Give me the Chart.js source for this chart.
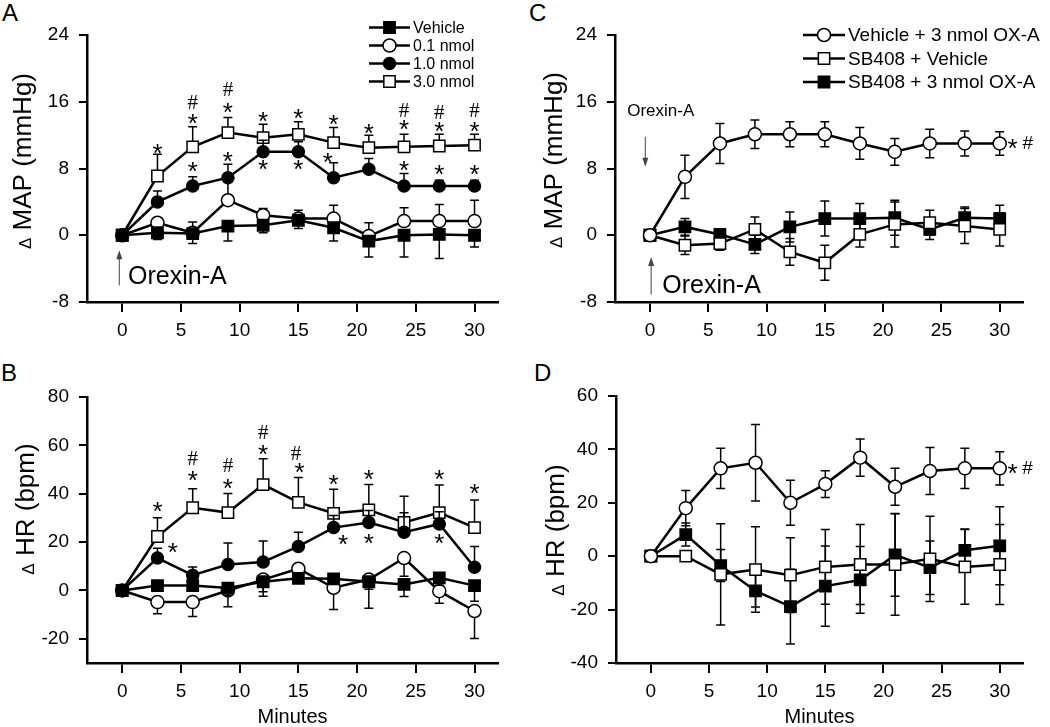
<!DOCTYPE html>
<html>
<head>
<meta charset="utf-8">
<script src="https://cdn.jsdelivr.net/npm/chart.js@4.4.1/dist/chart.umd.min.js"></script>
<style>
body { margin: 0; background: #fff; width: 1050px; height: 727px; position: relative; overflow: hidden; font-family: 'Liberation Sans', Arial, sans-serif; }
canvas { position: absolute; }
.tag { position: absolute; font-size: 24px; line-height: 24px; color: #000; }
</style>
</head>
<body>
<div class="tag" style="left:2px;top:1px">A</div>
<div class="tag" style="left:1px;top:361px">B</div>
<div class="tag" style="left:529px;top:1px">C</div>
<div class="tag" style="left:534px;top:361px">D</div>
<canvas id="mapDose" width="510" height="345" style="left:0;top:0"></canvas>
<canvas id="hrDose" width="510" height="382" style="left:0;top:345px"></canvas>
<canvas id="mapBlock" width="530" height="345" style="left:520px;top:0"></canvas>
<canvas id="hrBlock" width="530" height="382" style="left:520px;top:345px"></canvas>
<script>
const minutes = [0, 3, 6, 9, 12, 15, 18, 21, 24, 27, 30];
const minuteTicks = [0, 5, 10, 15, 20, 25, 30];

// A - change in MAP, dose response
const doseLabels = ['Vehicle', '0.1 nmol', '1.0 nmol', '3.0 nmol'];
const mapVehicle = [0, 0.3, 0.2, 1.1, 1.2, 1.8, 0.9, -0.7, 0, 0.1, 0];
const mapVehicleSem = [0, 0.8, 1.2, 1.8, 0.9, 1.0, 1.6, 1.9, 2.6, 2.9, 1.4];
const map01 = [0, 1.5, 0.3, 4.2, 2.4, 2.0, 2.0, -0.1, 1.7, 1.7, 1.7];
const map01Sem = [0, 0.3, 1.3, 2.2, 0.8, 1.0, 1.6, 1.6, 1.6, 2.0, 2.5];
const map10 = [0, 4.0, 5.9, 6.9, 10.0, 10.0, 6.9, 7.9, 5.9, 5.9, 5.9];
const map10Sem = [0, 1.3, 1.1, 1.6, 1.4, 1.2, 1.8, 1.3, 1.5, 0.7, 0.7];
const map30 = [0, 7.1, 10.6, 12.3, 11.7, 12.1, 11.1, 10.5, 10.6, 10.7, 10.8];
const map30Sem = [0, 2.6, 2.4, 1.8, 1.6, 1.5, 1.8, 1.5, 1.5, 1.4, 1.3];

// B - change in HR, dose response
const hrVehicle = [0, 2.0, 2.0, 1.0, 3.6, 5.0, 4.8, 3.6, 2.5, 5.2, 2.0];
const hrVehicleSem = [0, 2, 2, 3, 6, 2, 2, 11, 5, 3, 6.5];
const hr01 = [0, -4.8, -4.8, 0, 4.5, 9.0, 1.1, 4.5, 13.4, -0.3, -8.5];
const hr01Sem = [0, 4.8, 6, 6.7, 5, 3, 9, 4, 7.5, 5, 11.4];
const hr10 = [0, 13.4, 6.3, 10.7, 11.8, 18.2, 26.0, 28.1, 24.1, 27.5, 9.6];
const hr10Sem = [0, 4.1, 3.4, 8.9, 8.7, 5.9, 5, 5, 8, 5, 8.6];
const hr30 = [0, 22.3, 34.2, 32.2, 43.8, 36.4, 31.9, 33.3, 28.1, 32.2, 26.0];
const hr30Sem = [0, 7.8, 7.9, 7.9, 10.7, 10.3, 10.0, 10.5, 10.9, 11.4, 11.4];

// C - change in MAP, SB408 block
const blockLabels = ['Vehicle + 3 nmol OX-A', 'SB408 + Vehicle', 'SB408 + 3 nmol OX-A'];
const mapVehOx = [0, 7.0, 11.0, 12.1, 12.1, 12.1, 11.0, 10.0, 11.0, 11.0, 11.0];
const mapVehOxSem = [0, 2.6, 2.4, 1.7, 1.5, 1.5, 1.9, 1.6, 1.7, 1.5, 1.4];
const mapSbVeh = [0, -1.2, -1.0, 0.7, -2.0, -3.3, 0.1, 1.3, 1.5, 1.1, 0.7];
const mapSbVehSem = [0, 1.1, 0.8, 1.5, 1.6, 2.1, 1.5, 2.7, 1.5, 2.1, 2.0];
const mapSbOx = [0, 1.0, 0.1, -1.1, 1.0, 2.0, 2.0, 2.1, 0.7, 2.1, 2.0];
const mapSbOxSem = [0, 1.0, 0.6, 1.1, 1.8, 2.1, 1.8, 2.1, 1.2, 1.3, 1.6];

// D - change in HR, SB408 block
const hrVehOx = [0, 18.0, 32.9, 35.0, 20.0, 27.0, 36.9, 26.0, 31.9, 32.9, 32.9];
const hrVehOxSem = [0, 6.6, 7.5, 14.3, 8.4, 5.0, 7.0, 6.9, 8.8, 7.5, 6.2];
const hrSbVeh = [0, 0, -6.8, -5.0, -7.1, -4.0, -3.1, -3.1, -1.0, -4.0, -3.1];
const hrSbVehSem = [0, 1, 19, 16, 14, 14, 15, 19, 16, 14, 15];
const hrSbOx = [0, 8.1, -3.5, -13.0, -18.9, -11.2, -8.9, 0.5, -4.3, 2.2, 3.9];
const hrSbOxSem = [0, 4.3, 6, 6, 14, 15, 12.5, 15.5, 10, 8, 14.6];

// axis ranges [min, max, step]
const minuteRange = [-3, 32];
const mapRange = [-8, 24, 8];
const hrDoseRange = [-30, 80, 20];
const hrBlockRange = [-40, 60, 20];

// significance marks [minute, value, symbol]
const marksA = [
    [3, 10.4, '*'], [6, 14.0, '*'], [6, 15.8, '#'], [9, 15.3, '*'], [9, 17.4, '#'],
    [12, 14.2, '*'], [15, 14.5, '*'], [18, 13.8, '*'], [21, 12.8, '*'],
    [24, 13.2, '*'], [24, 14.8, '#'], [27, 13.0, '*'], [27, 14.6, '#'], [30, 13.0, '*'], [30, 14.8, '#'],
    [6, 8.2, '*'], [9, 9.4, '*'], [12, 8.4, '*'], [15, 8.4, '*'], [17.5, 9.3, '*'],
    [24, 8.3, '*'], [27, 7.9, '*'], [30, 7.9, '*']
];
const marksB = [
    [3, 34.7, '*'], [4.3, 17.5, '*'], [6, 47.4, '*'], [6, 54.1, '#'], [9, 44.2, '*'], [9, 51.1, '#'],
    [12, 58.2, '*'], [12, 65.1, '#'], [15.1, 50.7, '*'], [14.8, 56.3, '#'], [18, 45.6, '*'],
    [18.8, 21.0, '*'], [21, 47.7, '*'], [21, 21.2, '*'], [27, 47.7, '*'], [27, 21.2, '*'], [30, 42.2, '*']
];
const marksC = [[31.1, 11.0, '*'], [32.4, 11.0, '#']];
const marksD = [[31.1, 32.9, '*'], [32.4, 32.9, '#']];

// injection arrows [minute, from, to] and labels [minute, value, text, size]
const arrowsA = [[-0.25, -6.0, -1.8]];
const labelsA = [[0.5, -5.8, 'Orexin-A', 25]];
const arrowsC = [[-0.4, 11.8, 8.2], [0.1, -7.1, -2.6]];
const labelsC = [[-1.95, 14.3, 'Orexin-A', 17], [1.05, -6.9, 'Orexin-A', 25]];

const FONT = "'Liberation Sans', Arial, sans-serif";
Chart.defaults.font.family = FONT;
Chart.defaults.color = '#000';

const MARK = {
    filledSquare: { pointStyle: 'rect', radius: 8, fill: '#000' },
    openSquare: { pointStyle: 'rect', radius: 8, fill: '#fff' },
    filledCircle: { pointStyle: 'circle', radius: 6, fill: '#000' },
    openCircle: { pointStyle: 'circle', radius: 6.5, fill: '#fff' }
};

const panelExtras = {}; // canvas id -> marks, arrows, labels, legend box, y title

function series(label, values, sem, mark, dir) {
    return {
        label: label,
        data: minutes.map((m, i) => ({ x: m, y: values[i] })),
        errors: sem,
        errDir: dir,
        borderColor: '#000',
        borderWidth: 2.5,
        pointStyle: mark.pointStyle,
        pointRadius: mark.radius,
        pointBackgroundColor: mark.fill,
        pointBorderColor: '#000',
        pointBorderWidth: 1.5,
        fill: false,
        tension: 0
    };
}

function drawMarker(ctx, ds, x, y) {
    const r = ds.pointRadius;
    ctx.beginPath();
    if (ds.pointStyle === 'rect') {
        const h = r * Math.SQRT1_2;
        ctx.rect(x - h, y - h, 2 * h, 2 * h);
    } else {
        ctx.arc(x, y, r, 0, Math.PI * 2);
    }
    ctx.fillStyle = ds.pointBackgroundColor;
    ctx.fill();
    ctx.lineWidth = ds.pointBorderWidth;
    ctx.strokeStyle = '#000';
    ctx.stroke();
}

// rotated axis title with the small delta used in the figure
function drawYTitle(ctx, t) {
    const small = '17px ' + FONT, big = '26px ' + FONT;
    ctx.save();
    ctx.translate(t.x, t.y);
    ctx.rotate(-Math.PI / 2);
    ctx.fillStyle = '#000';
    ctx.textAlign = 'left';
    ctx.textBaseline = 'alphabetic';
    ctx.font = small;
    const w1 = ctx.measureText('Δ').width;
    ctx.font = big;
    const rest = ' ' + t.text;
    const w2 = ctx.measureText(rest).width;
    const x0 = -(w1 + w2) / 2;
    ctx.font = small;
    ctx.fillText('Δ', x0, 9);
    ctx.font = big;
    ctx.fillText(rest, x0 + w1, 9);
    ctx.restore();
}

const figurePlugin = {
    id: 'figure',
    beforeDatasetDraw(chart, args) {
        // error bars sit under this dataset's line and markers
        const ds = chart.data.datasets[args.index];
        const ys = chart.scales.y;
        const ctx = chart.ctx;
        ctx.save();
        ctx.strokeStyle = '#000';
        ctx.lineWidth = 1.5;
        args.meta.data.forEach((pt, j) => {
            const err = ds.errors[j];
            if (!err) return;
            const v = ds.data[j].y;
            const top = ys.getPixelForValue(v + err);
            const bot = ys.getPixelForValue(v - err);
            ctx.beginPath();
            if (ds.errDir !== 'down') {
                ctx.moveTo(pt.x, pt.y); ctx.lineTo(pt.x, top);
                ctx.moveTo(pt.x - 4.5, top); ctx.lineTo(pt.x + 4.5, top);
            }
            if (ds.errDir !== 'up') {
                ctx.moveTo(pt.x, pt.y); ctx.lineTo(pt.x, bot);
                ctx.moveTo(pt.x - 4.5, bot); ctx.lineTo(pt.x + 4.5, bot);
            }
            ctx.stroke();
        });
        ctx.restore();
    },
    afterDraw(chart) {
        const extra = panelExtras[chart.canvas.id];
        if (!extra) return;
        const ctx = chart.ctx;
        const xs = chart.scales.x, ys = chart.scales.y;
        drawYTitle(ctx, extra.yTitle);
        ctx.save();
        ctx.fillStyle = '#000';
        ctx.textAlign = 'center';
        ctx.textBaseline = 'middle';
        extra.marks.forEach(([m, v, g]) => {
            const px = xs.getPixelForValue(m), py = ys.getPixelForValue(v);
            if (g === '#') {
                ctx.font = extra.hashSize + 'px ' + extra.hashFont;
                ctx.fillText(g, px, py);
            } else {
                ctx.font = '26px ' + FONT;
                ctx.fillText(g, px, py + 6);
            }
        });
        ctx.strokeStyle = '#444';
        ctx.fillStyle = '#444';
        ctx.lineWidth = 1;
        (extra.arrows || []).forEach(([m, v0, v1]) => {
            const px = xs.getPixelForValue(m);
            const p0 = ys.getPixelForValue(v0), p1 = ys.getPixelForValue(v1);
            const dir = Math.sign(p1 - p0);
            ctx.beginPath();
            ctx.moveTo(px, p0); ctx.lineTo(px, p1 - dir * 6);
            ctx.stroke();
            ctx.beginPath();
            ctx.moveTo(px, p1);
            ctx.lineTo(px - 3, p1 - dir * 9);
            ctx.lineTo(px + 3, p1 - dir * 9);
            ctx.closePath();
            ctx.fill();
        });
        ctx.fillStyle = '#000';
        ctx.textAlign = 'left';
        ctx.textBaseline = 'alphabetic';
        (extra.labels || []).forEach(([m, v, text, size]) => {
            ctx.font = size + 'px ' + FONT;
            ctx.fillText(text, xs.getPixelForValue(m), ys.getPixelForValue(v));
        });
        const lg = extra.legend;
        if (lg) {
            chart.data.datasets.forEach((ds, i) => {
                const y = lg.y + lg.gap * i;
                ctx.strokeStyle = '#000';
                ctx.lineWidth = 2.5;
                ctx.beginPath();
                ctx.moveTo(lg.x0, y); ctx.lineTo(lg.x1, y);
                ctx.stroke();
                drawMarker(ctx, ds, (lg.x0 + lg.x1) / 2, y);
                ctx.fillStyle = '#000';
                ctx.font = lg.size + 'px ' + FONT;
                ctx.textBaseline = 'middle';
                ctx.fillText(ds.label, lg.x1 + 3, y + 1);
            });
        }
        ctx.restore();
    }
};

function makePanel(id, datasets, range, xTitle, box) {
    const canvas = document.getElementById(id);
    return new Chart(canvas.getContext('2d'), {
        type: 'line',
        data: { datasets: datasets },
        options: {
            responsive: false,
            animation: false,
            events: [],
            layout: { padding: { top: box.padTop, right: box.padRight, left: 0, bottom: 0 } },
            plugins: { legend: { display: false }, tooltip: { enabled: false } },
            scales: {
                x: {
                    type: 'linear', min: minuteRange[0], max: minuteRange[1],
                    afterBuildTicks: s => { s.ticks = minuteTicks.map(v => ({ value: v })); },
                    ticks: { font: { size: 19 }, color: '#000', padding: 7, maxRotation: 0 },
                    grid: { drawOnChartArea: false, drawTicks: true, tickLength: 10, color: '#000', lineWidth: 2 },
                    border: { color: '#000', width: 2.5 },
                    title: { display: !!xTitle, text: xTitle || '', font: { size: 20, lineHeight: 1 }, color: '#000', padding: 0 },
                    afterFit: s => { s.height = box.xHeight; }
                },
                y: {
                    type: 'linear', min: range[0], max: range[1],
                    ticks: { stepSize: range[2], includeBounds: false, font: { size: 19 }, color: '#000', padding: 10 },
                    grid: { drawOnChartArea: false, drawTicks: true, tickLength: 8, color: '#000', lineWidth: 2 },
                    border: { color: '#000', width: 2.5 },
                    afterFit: s => { s.width = box.yWidth; }
                }
            }
        },
        plugins: [figurePlugin]
    });
}

panelExtras.mapDose = { marks: marksA, hashFont: "'Liberation Serif', serif", hashSize: 21, arrows: arrowsA, labels: labelsA,
    legend: { x0: 369, x1: 410, y: 27.5, gap: 18, size: 16 }, yTitle: { text: 'MAP (mmHg)', x: 22, y: 161 } };
panelExtras.hrDose = { marks: marksB, hashFont: "'Liberation Serif', serif", hashSize: 21,
    yTitle: { text: 'HR (bpm)', x: 25, y: 164 } };
panelExtras.mapBlock = { marks: marksC, hashFont: FONT, hashSize: 19, arrows: arrowsC, labels: labelsC,
    legend: { x0: 283, x1: 325, y: 35, gap: 23.5, size: 19 }, yTitle: { text: 'MAP (mmHg)', x: 33, y: 160 } };
panelExtras.hrBlock = { marks: marksD, hashFont: FONT, hashSize: 19,
    yTitle: { text: 'HR (bpm)', x: 35, y: 185 } };

makePanel('mapDose', [
    series(doseLabels[0], mapVehicle, mapVehicleSem, MARK.filledSquare, 'down'),
    series(doseLabels[1], map01, map01Sem, MARK.openCircle, 'up'),
    series(doseLabels[2], map10, map10Sem, MARK.filledCircle, 'up'),
    series(doseLabels[3], map30, map30Sem, MARK.openSquare, 'up')
], mapRange, null, { yWidth: 87, padTop: 35, padRight: 12, xHeight: 43 });

makePanel('hrDose', [
    series(doseLabels[0], hrVehicle, hrVehicleSem, MARK.filledSquare, 'down'),
    series(doseLabels[1], hr01, hr01Sem, MARK.openCircle, 'down'),
    series(doseLabels[2], hr10, hr10Sem, MARK.filledCircle, 'up'),
    series(doseLabels[3], hr30, hr30Sem, MARK.openSquare, 'up')
], hrDoseRange, 'Minutes', { yWidth: 87, padTop: 52, padRight: 12, xHeight: 64 });

makePanel('mapBlock', [
    series(blockLabels[0], mapVehOx, mapVehOxSem, MARK.openCircle, 'both'),
    series(blockLabels[1], mapSbVeh, mapSbVehSem, MARK.openSquare, 'both'),
    series(blockLabels[2], mapSbOx, mapSbOxSem, MARK.filledSquare, 'both')
], mapRange, null, { yWidth: 95, padTop: 35, padRight: 27, xHeight: 43 });

makePanel('hrBlock', [
    series(blockLabels[0], hrVehOx, hrVehOxSem, MARK.openCircle, 'both'),
    series(blockLabels[1], hrSbVeh, hrSbVehSem, MARK.openSquare, 'both'),
    series(blockLabels[2], hrSbOx, hrSbOxSem, MARK.filledSquare, 'both')
], hrBlockRange, 'Minutes', { yWidth: 96, padTop: 51, padRight: 27, xHeight: 64 });
</script>
</body>
</html>
